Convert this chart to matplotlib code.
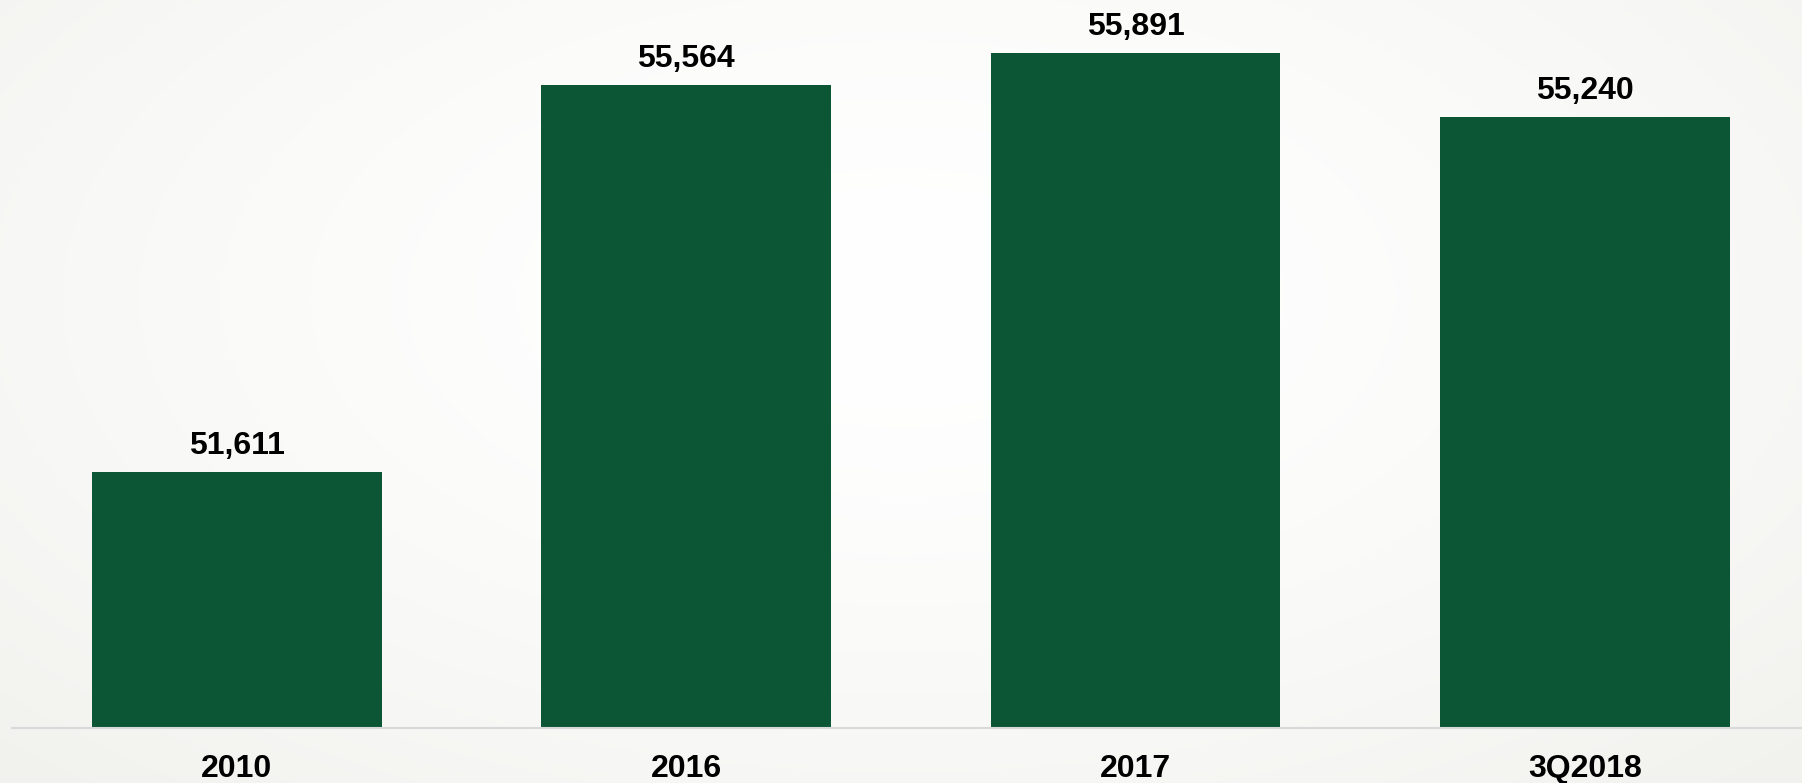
import numpy as np
import matplotlib.pyplot as plt

# data
categories = ['2010', '2016', '2017', '3Q2018']
values = [51611, 55564, 55891, 55240]
value_labels = ['51,611', '55,564', '55,891', '55,240']

bar_color = '#0c5535'

fig = plt.figure(figsize=(18.02, 7.83), dpi=100)

# soft radial background
bg = fig.add_axes([0, 0, 1, 1])
yy, xx = np.mgrid[0:1:300j, 0:1:700j]
r = np.sqrt(((xx - 0.5) / 0.75) ** 2 + ((yy - 0.38) / 0.9) ** 2)
r = np.clip(r, 0, 1)
white = np.array([1.0, 1.0, 1.0])
edge = np.array([0xf0, 0xf0, 0xec]) / 255
img = white + (edge - white) * r[..., None] ** 1.6
bg.imshow(img, aspect='auto', extent=[0, 1, 0, 1], origin='upper')
bg.axis('off')

ax = fig.add_axes([12 / 1802, 55 / 783, 1 - 12 / 1802, 728 / 783])
ax.patch.set_alpha(0)
bars = ax.bar(range(len(categories)), values, width=0.645, color=bar_color, zorder=2)
ax.bar_label(bars, labels=value_labels, padding=8, fontsize=23,
             fontweight='bold', family='Liberation Sans', color='black')

ax.set_xlim(-0.5, 3.483)
ax.set_ylim(49000, 56434)
ax.set_xticks(range(len(categories)))
ax.set_xticklabels(categories, fontsize=23, fontweight='bold', family='Liberation Sans')
ax.tick_params(axis='x', length=0, pad=19)
ax.set_yticks([])
for s in ['top', 'right', 'left']:
    ax.spines[s].set_visible(False)
ax.spines['bottom'].set_color('#d9d9d9')
ax.spines['bottom'].set_linewidth(1.5)

fig.savefig('out.png', dpi=100)
